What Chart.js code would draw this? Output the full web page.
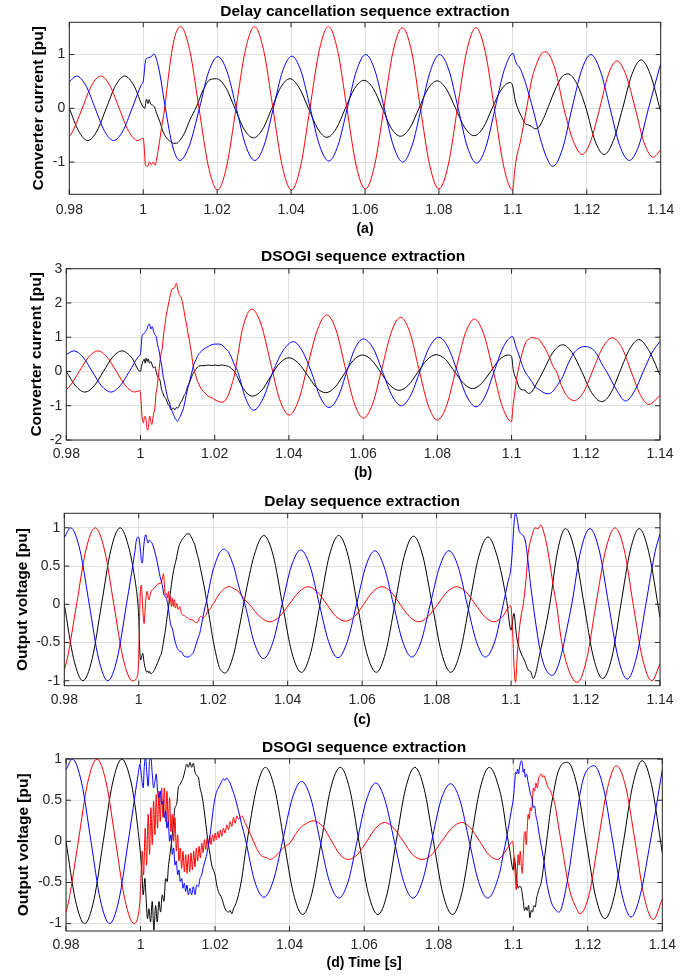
<!DOCTYPE html>
<html>
<head>
<meta charset="utf-8">
<script src="https://cdn.jsdelivr.net/npm/chart.js@4.4.1/dist/chart.umd.min.js"></script>
<style>
  html, body { margin: 0; padding: 0; background: #ffffff; }
  #wrap { position: relative; width: 693px; height: 976px; overflow: hidden; }
  #wrap canvas { position: absolute; left: 0; }
</style>
</head>
<body>
<div id="wrap"></div>
<script>
// ---- axis labels and ticks ----
const xTickLabels = ['0.98', '1', '1.02', '1.04', '1.06', '1.08', '1.1', '1.12', '1.14'];
const yTicksA = [-1, 0, 1];
const yTicksB = [-2, -1, 0, 1, 2, 3];
const yTicksC = [-1, -0.5, 0, 0.5, 1];
const yTicksD = [-1, -0.5, 0, 0.5, 1];
const panelTitles = ['Delay cancellation sequence extraction', 'DSOGI sequence extraction', 'Delay sequence extraction', 'DSOGI sequence extraction'];
const yTitles = ['Converter current [pu]', 'Converter current [pu]', 'Output voltage [pu]', 'Output voltage [pu]'];
const xTitles = ['(a)', '(b)', '(c)', '(d) Time [s]'];

// ---- (a) delay cancellation, converter current: [time s, pu] ----
const aBlue = [
[0.98,0.49],[0.982,0.6],[0.9845,0.42],[0.987,0],[0.9895,-0.42],[0.992,-0.6],[0.9945,-0.42],[0.997,0],[0.9995,0.44],[1.0,0.5],
[1.0007,0.91],[1.0014,0.94],[1.0023,0.97],[1.0029,1.01],[1.0036,0.91],[1.0045,0.64],[1.006,0],[1.008,-0.72],[1.0099,-0.97],[1.0125,-0.69],[1.0152,0],[1.0177,0.68],[1.0202,0.96],[1.0227,0.68],[1.0252,0],[1.0277,-0.69],[1.0302,-0.97],[1.0327,-0.69],[1.0352,0],[1.0377,0.69],[1.0402,0.97],[1.0427,0.69],[1.0452,0],[1.0477,-0.69],[1.0502,-0.98],[1.0527,-0.69],[1.0552,0],[1.0577,0.7],[1.0602,1.0],[1.0627,0.7],[1.0652,0],[1.0677,-0.7],[1.0702,-1.0],[1.0727,-0.7],[1.0752,0],[1.0777,0.7],[1.0802,1.0],[1.0827,0.71],[1.0852,0],[1.0877,-0.72],[1.0902,-1.02],[1.0927,-0.72],[1.0952,0],[1.0977,0.72],[1.1001,1.02],
[1.1006,0.9],[1.1011,0.82],[1.1019,0.75],[1.1028,0.6],[1.1037,0.41],[1.1055,-0.03],[1.1073,-0.53],[1.1091,-0.91],[1.1108,-1.08],[1.1134,-0.76],[1.116,0],[1.1186,0.71],[1.1211,1.0],[1.1237,0.69],[1.1263,0],[1.1289,-0.69],[1.1315,-0.97],[1.1341,-0.69],[1.1367,0],[1.14,0.83]
];
const aRed = [
[0.98,-0.53],[0.981,-0.42],[0.9835,0],[0.986,0.42],[0.9885,0.6],[0.991,0.42],[0.9935,0],[0.996,-0.42],[0.9985,-0.6],[1.0,-0.56],
[1.0003,-0.75],[1.0006,-1.06],[1.0012,-1.08],[1.0017,-1.0],[1.0022,-1.05],[1.0027,-1.0],[1.0032,-1.06],[1.0037,-0.92],[1.0044,-0.62],[1.005,-0.34],[1.0057,-0.05],[1.0064,0.35],[1.0072,0.8],[1.0081,1.2],[1.009,1.43],[1.0101,1.52],[1.0126,1.07],[1.0151,0],[1.0176,-1.07],[1.0201,-1.52],[1.0226,-1.07],[1.0251,0],[1.0276,1.07],[1.0301,1.52],[1.0326,1.07],[1.0351,0],[1.0376,-1.07],[1.0401,-1.52],[1.0426,-1.07],[1.0451,0],[1.0476,1.07],[1.0501,1.52],[1.0526,1.07],[1.0551,0],[1.0576,-1.06],[1.0601,-1.5],[1.0626,-1.06],[1.0651,0],[1.0676,1.06],[1.0701,1.5],[1.0726,1.06],[1.075,0],[1.0775,-1.06],[1.08,-1.5],[1.0825,-1.06],[1.085,0],[1.0875,1.06],[1.09,1.5],[1.0925,1.06],[1.095,0],[1.0975,-1.07],[1.0999,-1.52],
[1.1006,-1.1],[1.1012,-0.85],[1.1019,-0.66],[1.1028,-0.34],[1.1038,0.03],[1.1051,0.53],[1.1065,0.84],[1.1078,1.02],[1.1089,1.05],[1.1114,0.73],[1.1138,0],[1.1163,-0.6],[1.1188,-0.86],[1.1211,-0.6],[1.1235,0],[1.1258,0.62],[1.1281,0.88],[1.1306,0.62],[1.1331,0],[1.1355,-0.64],[1.138,-0.91],[1.14,-0.77]
];
const aBlack = [
[0.98,0],[0.9825,-0.42],[0.985,-0.6],[0.9875,-0.42],[0.99,0],[0.9925,0.42],[0.995,0.6],[0.9975,0.42],[1.0,0.02],
[1.0004,0.0],[1.0009,0.17],[1.0013,0.09],[1.0016,0.16],[1.002,0.08],[1.0025,0.06],[1.003,0.03],[1.0036,-0.09],[1.0045,-0.25],[1.0054,-0.44],[1.0063,-0.55],[1.0072,-0.61],[1.0081,-0.65],[1.009,-0.65],[1.0099,-0.6],[1.0113,-0.44],[1.0126,-0.22],[1.0144,0.03],[1.0162,0.34],[1.018,0.53],[1.0198,0.55],[1.0223,0.39],[1.0248,0],[1.0273,-0.39],[1.0298,-0.55],[1.0323,-0.39],[1.0348,0],[1.0372,0.39],[1.0397,0.55],[1.0422,0.38],[1.0447,0],[1.0472,-0.38],[1.0497,-0.54],[1.0522,-0.38],[1.0547,0],[1.0572,0.37],[1.0597,0.52],[1.0622,0.37],[1.0647,0],[1.0671,-0.37],[1.0696,-0.52],[1.0721,-0.37],[1.0746,0],[1.077,0.36],[1.0795,0.51],[1.082,0.36],[1.0845,0],[1.087,-0.36],[1.0895,-0.51],[1.092,-0.36],[1.0944,0],[1.0968,0.34],[1.0993,0.48],
[1.1,0.4],[1.1006,0.16],[1.1015,-0.03],[1.1024,-0.16],[1.1033,-0.28],[1.1042,-0.31],[1.1051,-0.34],[1.106,-0.38],[1.1069,-0.36],[1.1083,-0.19],[1.1096,0.03],[1.1114,0.34],[1.1132,0.58],[1.1149,0.64],[1.1173,0.46],[1.1198,0],[1.1222,-0.6],[1.1247,-0.86],[1.1272,-0.6],[1.1297,0],[1.1322,0.63],[1.1347,0.9],[1.1372,0.63],[1.14,-0.06]
];

// ---- (b) DSOGI, converter current ----
const bBlue = [
[0.98,0.49],[0.982,0.6],[0.9845,0.42],[0.987,0],[0.9895,-0.42],[0.992,-0.6],[0.9945,-0.42],[0.997,0],[0.9995,0.44],[1.0,0.52],
[1.00045,1.05],[1.0009,1.1],[1.00135,1.17],[1.0018,1.25],[1.00207,1.36],[1.00243,1.38],[1.00279,1.24],[1.00315,1.31],[1.00351,1.17],[1.00387,1.07],[1.00423,1.02],[1.00459,0.78],[1.00495,0.63],[1.00532,0.39],[1.00568,0.19],[1.00604,-0.1],[1.0064,-0.29],[1.00676,-0.49],[1.00712,-0.68],[1.00748,-0.83],[1.00784,-0.92],[1.0082,-1.07],[1.00856,-1.17],[1.00892,-1.26],[1.00928,-1.36],[1.00964,-1.41],[1.01,-1.46],[1.01036,-1.38],[1.01072,-1.31],[1.01108,-1.21],[1.01144,-1.12],[1.0118,-0.97],[1.01216,-0.78],[1.01252,-0.58],[1.01288,-0.44],[1.01333,-0.24],[1.01378,-0.05],[1.01423,0.15],[1.01468,0.29],[1.01514,0.39],[1.01559,0.49],[1.01649,0.6],[1.01739,0.68],[1.01829,0.73],[1.01919,0.78],[1.02009,0.8],[1.02099,0.8],[1.02189,0.78],[1.02279,0.68],[1.02369,0.58],[1.02459,0.39],[1.02532,0.19],[1.0262,0],[1.0283,-0.78],[1.0305,-1.13],[1.033,-0.8],[1.0357,0],[1.0385,0.62],[1.0412,0.87],[1.0436,0.6],[1.046,0],[1.0484,-0.74],[1.0508,-1.05],[1.0533,-0.73],[1.0556,0],[1.0578,0.67],[1.06,0.95],[1.0627,0.68],[1.0652,0],[1.0678,-0.71],[1.0703,-1.0],[1.0728,-0.7],[1.0753,0],[1.0778,0.7],[1.0804,1.0],[1.0829,0.7],[1.0854,0],[1.0879,-0.72],[1.0904,-1.03],[1.0929,-0.72],[1.0953,0],[1.0978,0.72],[1.1003,1.02],
[1.1009,0.83],[1.1013,0.68],[1.1018,0.54],[1.1027,0.24],[1.1036,0],[1.1045,-0.15],[1.1054,-0.29],[1.1063,-0.44],[1.1076,-0.54],[1.1085,-0.61],[1.1096,-0.65],[1.1108,-0.61],[1.1121,-0.44],[1.1138,-0.15],[1.1153,0.24],[1.1171,0.58],[1.1198,0.73],[1.1225,0.58],[1.1247,0.15],[1.1256,0],[1.1283,-0.54],[1.1307,-0.86],[1.1333,-0.54],[1.1355,0],[1.1378,0.54],[1.14,0.88]
];
const bRed = [
[0.98,-0.53],[0.981,-0.42],[0.9835,0],[0.986,0.42],[0.9885,0.6],[0.991,0.42],[0.9935,0],[0.996,-0.42],[0.9985,-0.6],[0.99982,-0.56],
[1.00009,-0.78],[1.00045,-1.36],[1.00081,-1.5],[1.00099,-1.36],[1.00126,-1.31],[1.00153,-1.44],[1.0018,-1.7],[1.00207,-1.7],[1.00225,-1.46],[1.00252,-1.31],[1.00279,-1.46],[1.00306,-1.55],[1.00333,-1.36],[1.0036,-1.21],[1.00387,-1.07],[1.00414,-0.68],[1.00441,-0.49],[1.00477,-0.19],[1.00514,0.19],[1.0055,0.49],[1.00586,0.68],[1.00622,1.07],[1.00658,1.36],[1.00694,1.65],[1.0073,1.84],[1.00766,2.04],[1.00802,2.23],[1.00838,2.38],[1.00874,2.43],[1.0091,2.43],[1.00937,2.5],[1.00964,2.57],[1.00991,2.48],[1.01018,2.33],[1.01054,2.23],[1.0109,2.18],[1.01126,2.04],[1.01162,1.84],[1.01198,1.6],[1.01234,1.41],[1.0127,1.17],[1.01306,0.97],[1.01342,0.73],[1.01378,0.49],[1.01414,0.19],[1.0145,0],[1.01486,-0.1],[1.01523,-0.24],[1.01559,-0.34],[1.01604,-0.44],[1.01649,-0.53],[1.01739,-0.63],[1.01829,-0.73],[1.01919,-0.76],[1.02009,-0.83],[1.02099,-0.87],[1.02189,-0.9],[1.02261,-0.87],[1.02324,-0.78],[1.02387,-0.63],[1.02459,-0.39],[1.02532,-0.1],[1.0262,0.45],[1.0275,1.25],[1.03,1.82],[1.0325,1.37],[1.035,0.28],[1.0375,-0.82],[1.0401,-1.27],[1.0426,-0.84],[1.0451,0.19],[1.0477,1.22],[1.0502,1.65],[1.0527,1.21],[1.0551,0.15],[1.0576,-0.92],[1.0601,-1.36],[1.0626,-0.93],[1.0651,0.11],[1.0676,1.15],[1.0701,1.58],[1.0726,1.14],[1.075,0.08],[1.0775,-0.98],[1.08,-1.42],[1.0825,-0.99],[1.085,0.06],[1.0875,1.1],[1.09,1.53],[1.0925,1.09],[1.095,0.04],[1.0975,-1.02],[1.1,-1.46],
[1.1004,-1.0],[1.1009,-0.6],[1.1013,-0.25],[1.1022,0.25],[1.1031,0.63],[1.104,0.88],[1.1048,0.95],[1.1054,1.0],[1.106,0.98],[1.1067,0.97],[1.1075,0.93],[1.1081,0.83],[1.109,0.68],[1.1099,0.49],[1.1112,0.15],[1.1121,0],[1.1134,-0.4],[1.1148,-0.7],[1.1169,-0.85],[1.1195,-0.58],[1.122,0.06],[1.1246,0.71],[1.1272,0.98],[1.1297,0.7],[1.1322,0.01],[1.1347,-0.68],[1.137,-0.96],[1.14,-0.7]
];
const bBlack = [
[0.98,0],[0.9825,-0.42],[0.985,-0.6],[0.9875,-0.42],[0.99,0],[0.9925,0.42],[0.995,0.6],[0.9975,0.42],[1.0,0],
[1.00027,0.15],[1.00063,0.29],[1.00099,0.36],[1.00126,0.24],[1.00153,0.39],[1.0018,0.29],[1.00207,0.37],[1.00243,0.24],[1.00279,0.29],[1.00315,0.19],[1.00351,0.1],[1.00387,0.14],[1.00423,0],[1.00459,-0.15],[1.00495,-0.19],[1.00532,-0.29],[1.00568,-0.53],[1.00604,-0.63],[1.0064,-0.73],[1.00676,-0.78],[1.00712,-0.87],[1.00748,-0.97],[1.00784,-1.02],[1.0082,-1.12],[1.00856,-1.09],[1.00892,-1.07],[1.00928,-1.12],[1.00964,-1.05],[1.01,-1.07],[1.01036,-1.02],[1.01072,-0.92],[1.01108,-0.87],[1.01144,-0.78],[1.0118,-0.68],[1.01216,-0.63],[1.01252,-0.49],[1.01288,-0.39],[1.01333,-0.29],[1.01378,-0.15],[1.01423,-0.05],[1.01468,0.02],[1.01514,0.1],[1.01559,0.15],[1.01649,0.17],[1.01739,0.17],[1.01829,0.19],[1.01919,0.17],[1.02009,0.19],[1.02099,0.17],[1.02189,0.19],[1.02279,0.17],[1.02369,0.15],[1.02459,0.08],[1.02532,0],[1.0277,-0.5],[1.0301,-0.72],[1.0326,-0.56],[1.035,-0.16],[1.0375,0.24],[1.04,0.4],[1.0425,0.25],[1.045,-0.11],[1.0474,-0.47],[1.0499,-0.62],[1.0524,-0.46],[1.0549,-0.07],[1.0573,0.32],[1.0598,0.48],[1.0623,0.33],[1.0648,-0.035],[1.0672,-0.4],[1.0697,-0.55],[1.0722,-0.4],[1.0747,-0.03],[1.0772,0.34],[1.0797,0.49],[1.0822,0.35],[1.0846,0],[1.0871,-0.35],[1.0895,-0.5],[1.0919,-0.35],[1.0943,-0.01],[1.0967,0.34],[1.0991,0.48],
[1.1,0.44],[1.10045,0.05],[1.10135,-0.25],[1.10225,-0.5],[1.1036,-0.55],[1.1045,-0.64],[1.1054,-0.6],[1.1063,-0.44],[1.1085,0],[1.1111,0.55],[1.1138,0.78],[1.1163,0.55],[1.1189,0],[1.1216,-0.62],[1.1243,-0.88],[1.1268,-0.62],[1.1292,0],[1.1318,0.65],[1.1343,0.93],[1.1368,0.65],[1.14,-0.1]
];

// ---- (c) delay extraction, output voltage ----
const cBlue = [
[0.98,0.87],[0.9817,1.0],[0.9842,0.71],[0.9867,0],[0.9892,-0.71],[0.9917,-1.0],[0.9942,-0.71],[0.9967,0],[0.99893,0.68],
[0.99937,0.84],[0.99982,0.88],[1.00009,0.86],[1.00045,0.71],[1.00072,0.56],[1.00098,0.54],[1.00125,0.71],[1.00152,0.84],[1.00188,0.91],[1.00215,0.86],[1.00251,0.8],[1.00286,0.84],[1.00322,0.82],[1.00358,0.8],[1.00394,0.75],[1.0043,0.69],[1.00466,0.62],[1.00501,0.54],[1.00537,0.45],[1.00573,0.36],[1.00609,0.3],[1.00645,0.21],[1.0068,0.12],[1.00716,0.1],[1.00752,0.06],[1.00788,-0.03],[1.00824,-0.16],[1.00859,-0.27],[1.00895,-0.31],[1.00931,-0.38],[1.00967,-0.47],[1.01003,-0.53],[1.01038,-0.58],[1.01074,-0.6],[1.0111,-0.62],[1.01146,-0.62],[1.01182,-0.65],[1.01218,-0.68],[1.01253,-0.68],[1.01289,-0.69],[1.01325,-0.69],[1.0137,-0.68],[1.01415,-0.66],[1.01459,-0.64],[1.01504,-0.58],[1.01549,-0.51],[1.01594,-0.44],[1.01638,-0.38],[1.01683,-0.27],[1.01728,-0.16],[1.01773,-0.05],[1.01817,0.03],[1.01862,0.14],[1.01907,0.25],[1.01952,0.36],[1.01996,0.45],[1.02041,0.51],[1.02086,0.58],[1.02131,0.63],[1.02175,0.68],[1.0222,0.7],[1.02265,0.72],[1.0231,0.72],[1.02355,0.7],[1.02399,0.68],[1.02444,0.63],[1.02489,0.58],[1.02578,0.45],[1.02668,0.27],[1.02757,0.12],[1.0285,0],[1.031,-0.5],[1.0335,-0.71],[1.036,-0.5],[1.0385,0],[1.041,0.5],[1.0435,0.71],[1.046,0.5],[1.0485,0],[1.051,-0.49],[1.0535,-0.7],[1.056,-0.49],[1.0585,0],[1.061,0.5],[1.0634,0.7],[1.0659,0.49],[1.0684,0],[1.0709,-0.49],[1.0733,-0.69],[1.0758,-0.49],[1.0783,0],[1.0808,0.49],[1.0833,0.7],[1.0858,0.49],[1.0882,0],[1.0907,-0.49],[1.0931,-0.69],[1.0956,-0.49],[1.0979,0],
[1.0992,0.3],[1.0999,0.45],[1.1003,0.67],[1.1008,1.06],[1.1012,1.19],[1.1017,1.1],[1.1021,0.97],[1.1028,0.92],[1.1035,0.88],[1.104,0.78],[1.1046,0.54],[1.1052,0.27],[1.106,-0.03],[1.1069,-0.34],[1.1078,-0.6],[1.1088,-0.79],[1.11,-0.9],[1.1111,-0.93],[1.1122,-0.86],[1.1136,-0.64],[1.1149,-0.34],[1.1163,0],[1.1187,0.7],[1.1212,0.99],[1.1237,0.7],[1.1262,0],[1.1287,-0.69],[1.1312,-0.98],[1.1337,-0.69],[1.1362,0],[1.1387,0.69],[1.14,0.92]
];
const cRed = [
[0.98,-0.86],[0.9808,-0.71],[0.9833,0],[0.9858,0.71],[0.9883,1.0],[0.9908,0.71],[0.9933,0],[0.9958,-0.71],[0.9983,-1.0],
[0.99937,-0.97],[0.99964,-0.93],[0.99991,-0.81],[1.00009,-0.51],[1.00027,-0.07],[1.00045,0.19],[1.00072,0.25],[1.0009,0.1],[1.00116,-0.12],[1.00143,-0.25],[1.0017,-0.07],[1.00197,0.1],[1.00224,0.17],[1.00251,0.1],[1.00278,0.06],[1.00304,0.12],[1.00331,0.17],[1.00358,0.19],[1.00394,0.2],[1.0043,0.22],[1.00466,0.24],[1.00501,0.26],[1.00537,0.27],[1.00573,0.27],[1.00609,0.3],[1.00645,0.36],[1.00662,0.4],[1.0068,0.32],[1.00698,0.19],[1.00716,0.12],[1.00743,0.14],[1.0077,0.08],[1.00797,0.17],[1.00824,0.01],[1.0085,0.1],[1.00877,-0.03],[1.00904,0.08],[1.00931,-0.03],[1.00958,0.06],[1.00985,-0.05],[1.01021,0.01],[1.01056,-0.07],[1.01101,-0.03],[1.01146,-0.12],[1.01191,-0.14],[1.01235,-0.15],[1.0128,-0.17],[1.01325,-0.18],[1.0137,-0.2],[1.01415,-0.2],[1.01459,-0.21],[1.01504,-0.23],[1.01549,-0.24],[1.01594,-0.23],[1.01638,-0.17],[1.01683,-0.16],[1.01728,-0.18],[1.01773,-0.16],[1.01817,-0.13],[1.01862,-0.07],[1.01907,-0.07],[1.01952,-0.03],[1.01996,0.01],[1.02041,0.03],[1.02086,0.08],[1.02131,0.11],[1.02175,0.14],[1.0222,0.17],[1.02265,0.19],[1.0231,0.21],[1.02355,0.22],[1.02399,0.23],[1.02444,0.23],[1.02489,0.22],[1.02578,0.2],[1.02668,0.17],[1.02757,0.12],[1.02847,0.06],[1.0297,0],[1.0325,-0.16],[1.0353,-0.23],[1.0378,-0.16],[1.0404,0],[1.043,0.16],[1.0455,0.23],[1.048,0.16],[1.0505,0],[1.053,-0.16],[1.0555,-0.22],[1.058,-0.16],[1.0604,0],[1.0628,0.16],[1.0653,0.23],[1.0678,0.16],[1.0702,0],[1.0727,-0.16],[1.0752,-0.23],[1.0777,-0.16],[1.0803,0],[1.0828,0.16],[1.0854,0.23],[1.0879,0.16],[1.0904,0],[1.0929,-0.16],[1.0954,-0.23],[1.0977,-0.16],[1.0999,-0.02],
[1.1004,-0.34],[1.1008,-0.81],[1.1012,-1.02],[1.1017,-0.64],[1.1022,-0.34],[1.1028,-0.12],[1.1033,0.01],[1.104,0.32],[1.1046,0.67],[1.1055,0.88],[1.1064,1.0],[1.1073,0.99],[1.108,1.04],[1.1086,0.97],[1.1095,0.8],[1.1104,0.54],[1.1118,0.1],[1.1122,0],[1.1136,-0.5],[1.1158,-0.9],[1.1178,-1.02],[1.1203,-0.72],[1.1228,0],[1.1254,0.71],[1.1279,1.0],[1.1304,0.71],[1.1328,0],[1.1353,-0.71],[1.1378,-1.0],[1.14,-0.78]
];
const cBlack = [
[0.98,0],[0.9825,-0.71],[0.985,-1.0],[0.9875,-0.71],[0.99,0],[0.9925,0.71],[0.995,1.0],[0.9975,0.71],[0.99893,0.34],
[0.99937,0.19],[0.99982,-0.03],[1.00009,-0.29],[1.00027,-0.6],[1.00054,-0.73],[1.00081,-0.68],[1.00107,-0.64],[1.00134,-0.73],[1.00161,-0.81],[1.00188,-0.86],[1.00215,-0.89],[1.00242,-0.87],[1.00269,-0.9],[1.00295,-0.88],[1.00322,-0.91],[1.00358,-0.9],[1.00394,-0.88],[1.0043,-0.85],[1.00466,-0.81],[1.00501,-0.77],[1.00537,-0.73],[1.00573,-0.68],[1.00609,-0.64],[1.00645,-0.55],[1.0068,-0.44],[1.00716,-0.34],[1.00752,-0.2],[1.00788,-0.07],[1.00824,0.06],[1.00859,0.19],[1.00895,0.32],[1.00931,0.43],[1.00967,0.51],[1.01003,0.58],[1.01038,0.67],[1.01074,0.75],[1.0111,0.8],[1.01146,0.83],[1.01182,0.86],[1.01218,0.88],[1.01253,0.9],[1.01289,0.92],[1.01325,0.92],[1.01361,0.92],[1.01397,0.89],[1.01432,0.86],[1.01468,0.82],[1.01504,0.78],[1.0154,0.71],[1.01576,0.64],[1.01611,0.58],[1.01647,0.49],[1.01683,0.41],[1.01728,0.3],[1.01773,0.19],[1.01817,0.06],[1.01862,-0.07],[1.01907,-0.2],[1.01952,-0.34],[1.01996,-0.47],[1.02041,-0.58],[1.02086,-0.68],[1.02131,-0.77],[1.02175,-0.84],[1.0222,-0.87],[1.02265,-0.89],[1.0231,-0.9],[1.02355,-0.89],[1.02399,-0.86],[1.02444,-0.81],[1.02489,-0.75],[1.02578,-0.6],[1.02668,-0.38],[1.02757,-0.16],[1.02847,0.08],[1.031,0.64],[1.0336,0.9],[1.0361,0.64],[1.0386,0],[1.0411,-0.63],[1.0437,-0.89],[1.0462,-0.63],[1.0487,0],[1.0512,0.64],[1.0537,0.9],[1.0562,0.64],[1.0587,0],[1.0612,-0.63],[1.0638,-0.89],[1.0663,-0.63],[1.0688,0],[1.0713,0.63],[1.0738,0.89],[1.0763,0.63],[1.0788,0],[1.0813,-0.63],[1.0838,-0.89],[1.0863,-0.63],[1.0888,0],[1.0913,0.62],[1.0938,0.88],[1.0963,0.62],[1.0988,0.05],
[1.1,-0.34],[1.10076,-0.12],[1.10148,-0.42],[1.10237,-0.6],[1.10372,-0.75],[1.10461,-0.86],[1.10524,-0.88],[1.10596,-0.97],[1.10775,-0.64],[1.1104,0],[1.1125,0.7],[1.1146,0.99],[1.1171,0.7],[1.1196,0],[1.1221,-0.69],[1.1246,-0.97],[1.1271,-0.69],[1.1295,0],[1.132,0.7],[1.1344,0.99],[1.1369,0.7],[1.14,-0.17]
];

// ---- (d) DSOGI, output voltage ----
const dBlue = [
[0.98,0.87],[0.9817,1.0],[0.9842,0.71],[0.9867,0],[0.9892,-0.71],[0.9917,-1.0],[0.9942,-0.71],[0.9967,0],[0.99848,0.55],
[0.99892,0.69],[0.99937,0.82],[0.99982,0.94],[1.00027,0.78],[1.00072,0.65],[1.00099,0.9],[1.00135,1.02],[1.0017,0.82],[1.00206,0.67],[1.00242,0.98],[1.00278,1.02],[1.00314,0.82],[1.0035,0.65],[1.00386,0.73],[1.00422,0.82],[1.00457,0.61],[1.00493,0.53],[1.00529,0.61],[1.00565,0.45],[1.00601,0.49],[1.00637,0.29],[1.00673,0.37],[1.00709,0.16],[1.00744,0.24],[1.0078,0],[1.00816,0.08],[1.00852,-0.16],[1.00888,-0.08],[1.00924,-0.29],[1.0096,-0.24],[1.00996,-0.41],[1.01031,-0.35],[1.01067,-0.49],[1.01103,-0.45],[1.01139,-0.57],[1.01175,-0.51],[1.01211,-0.61],[1.01247,-0.53],[1.01283,-0.65],[1.01327,-0.57],[1.01372,-0.65],[1.01417,-0.55],[1.01462,-0.65],[1.01507,-0.53],[1.01552,-0.55],[1.01596,-0.45],[1.01641,-0.41],[1.01686,-0.31],[1.01731,-0.24],[1.01776,-0.16],[1.01821,-0.04],[1.01865,0.08],[1.0191,0.24],[1.01955,0.41],[1.02,0.53],[1.02045,0.61],[1.0209,0.65],[1.02135,0.69],[1.02179,0.73],[1.02224,0.76],[1.02269,0.74],[1.02314,0.77],[1.02359,0.74],[1.02404,0.71],[1.02448,0.65],[1.02538,0.53],[1.02628,0.37],[1.02717,0.2],[1.02807,0.04],[1.0306,-0.48],[1.0331,-0.68],[1.0356,-0.48],[1.0381,0],[1.0407,0.52],[1.0432,0.73],[1.0457,0.52],[1.0482,0],[1.0507,-0.49],[1.0532,-0.69],[1.0557,-0.49],[1.0581,0],[1.0606,0.5],[1.0631,0.71],[1.0656,0.5],[1.0681,0],[1.0706,-0.49],[1.0731,-0.69],[1.0756,-0.49],[1.0781,0],[1.0806,0.5],[1.0832,0.7],[1.0857,0.5],[1.0882,0],[1.0907,-0.49],[1.0931,-0.69],
[1.09642,-0.37],[1.09731,-0.16],[1.09821,0.04],[1.0991,0.27],[1.09955,0.39],[1.1,0.51],[1.10036,0.69],[1.10063,0.84],[1.1009,0.82],[1.10116,0.88],[1.10143,0.82],[1.10179,0.92],[1.10215,0.98],[1.10242,0.96],[1.10269,0.84],[1.10295,0.88],[1.10322,0.78],[1.10358,0.82],[1.10394,0.73],[1.1043,0.65],[1.10466,0.57],[1.10501,0.53],[1.10537,0.41],[1.10573,0.43],[1.10609,0.31],[1.10645,0.24],[1.10698,0.08],[1.10761,-0.08],[1.10824,-0.24],[1.10895,-0.49],[1.10967,-0.65],[1.11038,-0.76],[1.11119,-0.82],[1.11209,-0.86],[1.11271,-0.84],[1.11343,-0.73],[1.11432,-0.53],[1.11522,-0.29],[1.11611,0],[1.11701,0.29],[1.1179,0.57],[1.1188,0.76],[1.1197,0.86],[1.1217,0.92],[1.1242,0.65],[1.1267,0],[1.1292,-0.65],[1.1316,-0.92],[1.1341,-0.65],[1.1368,0],[1.14,0.87]
];
const dRed = [
[0.98,-0.86],[0.9808,-0.71],[0.9833,0],[0.9858,0.71],[0.9883,1.0],[0.9908,0.71],[0.9933,0],[0.9958,-0.71],[0.9983,-1.0],
[0.99937,-0.9],[0.99982,-0.73],[1.0,-0.57],[1.00018,-0.4],[1.00045,-0.12],[1.00081,-0.41],[1.00126,0.16],[1.00161,-0.29],[1.00206,0.33],[1.00242,-0.16],[1.00278,0.41],[1.00314,-0.04],[1.0035,0.49],[1.00386,0.08],[1.00422,0.57],[1.00457,0.16],[1.00493,0.61],[1.00529,0.24],[1.00565,0.65],[1.00601,0.29],[1.00637,0.65],[1.00673,0.24],[1.00709,0.61],[1.00744,0.2],[1.0078,0.53],[1.00816,0.12],[1.00852,0.33],[1.00888,0],[1.00924,0.29],[1.0096,-0.12],[1.00996,0.08],[1.01031,-0.24],[1.01067,-0.08],[1.01103,-0.33],[1.01139,-0.12],[1.01175,-0.37],[1.01211,-0.16],[1.01247,-0.39],[1.01283,-0.16],[1.01318,-0.37],[1.01354,-0.14],[1.0139,-0.35],[1.01426,-0.12],[1.01462,-0.31],[1.01497,-0.08],[1.01533,-0.24],[1.01569,-0.06],[1.01605,-0.2],[1.01641,-0.02],[1.01677,-0.14],[1.01713,0.02],[1.01749,-0.1],[1.01785,0.04],[1.01821,-0.06],[1.01857,0.06],[1.01892,-0.04],[1.01928,0.08],[1.01964,0],[1.02,0.1],[1.02036,0.02],[1.02072,0.12],[1.02108,0.04],[1.02143,0.14],[1.02179,0.06],[1.02224,0.16],[1.02269,0.1],[1.02314,0.2],[1.02359,0.14],[1.02404,0.24],[1.02448,0.18],[1.02493,0.29],[1.02538,0.22],[1.02583,0.31],[1.02628,0.27],[1.02717,0.31],[1.02807,0.22],[1.029,0.14],[1.0303,0],[1.0321,-0.16],[1.0339,-0.2],[1.0348,-0.22],[1.0357,-0.2],[1.0375,-0.12],[1.0388,-0.06],[1.0401,-0.02],[1.0415,0.08],[1.0428,0.16],[1.0446,0.22],[1.0464,0.25],[1.0489,0.18],[1.0513,0],[1.0535,-0.16],[1.0558,-0.22],[1.0582,-0.16],[1.0607,0],[1.0631,0.16],[1.0655,0.23],[1.068,0.16],[1.0705,0],[1.073,-0.16],[1.0755,-0.22],[1.0782,-0.16],[1.0808,0],[1.0835,0.16],[1.0862,0.23],[1.0886,0.16],[1.091,0],[1.0934,-0.16],[1.0958,-0.22],[1.0973,-0.16],[1.09821,-0.1],[1.0991,-0.04],[1.09982,0],
[1.10018,-0.16],[1.10054,-0.41],[1.10081,-0.59],[1.10107,-0.37],[1.10134,-0.16],[1.10161,-0.29],[1.10188,-0.12],[1.10215,-0.29],[1.10242,-0.39],[1.10269,-0.16],[1.10295,0.08],[1.10322,0.12],[1.10349,-0.04],[1.10376,0.16],[1.10403,0.33],[1.1043,0.27],[1.10457,0.41],[1.10483,0.37],[1.1051,0.45],[1.10537,0.65],[1.10573,0.61],[1.10609,0.71],[1.10645,0.65],[1.1068,0.76],[1.10716,0.8],[1.10752,0.82],[1.10788,0.78],[1.10824,0.8],[1.1086,0.76],[1.10895,0.71],[1.1094,0.65],[1.10985,0.63],[1.1103,0.57],[1.11074,0.53],[1.11119,0.45],[1.11164,0.33],[1.11253,0.08],[1.11343,-0.16],[1.11432,-0.41],[1.11522,-0.61],[1.11611,-0.73],[1.11701,-0.82],[1.1179,-0.88],[1.1204,-0.64],[1.1228,0],[1.1253,0.65],[1.1277,0.92],[1.1302,0.66],[1.1327,0],[1.1351,-0.67],[1.1376,-0.95],[1.14,-0.7]
];
const dBlack = [
[0.98,0],[0.9825,-0.71],[0.985,-1.0],[0.9875,-0.71],[0.99,0],[0.9925,0.71],[0.995,1.0],[0.9975,0.71],[0.99848,0.45],
[0.99937,0.12],[1.0,-0.16],[1.00045,-0.45],[1.00072,-0.65],[1.00117,-0.45],[1.00144,-0.65],[1.00188,-0.94],[1.00224,-0.82],[1.00269,-0.98],[1.00314,-0.73],[1.00359,-1.08],[1.00404,-0.78],[1.00448,-0.98],[1.00493,-0.73],[1.00538,-0.86],[1.00583,-0.65],[1.00628,-0.73],[1.00673,-0.45],[1.00717,-0.49],[1.00744,-0.33],[1.00789,-0.16],[1.00834,0],[1.00879,0.2],[1.00924,0.41],[1.00969,0.45],[1.01013,0.65],[1.01058,0.69],[1.01103,0.73],[1.01148,0.78],[1.01193,0.86],[1.01238,0.94],[1.01283,0.9],[1.01327,0.96],[1.01372,0.9],[1.01417,0.95],[1.01462,0.84],[1.01507,0.8],[1.01552,0.78],[1.01596,0.65],[1.01641,0.57],[1.01686,0.45],[1.01731,0.29],[1.01776,0.12],[1.01821,-0.04],[1.01865,-0.16],[1.0191,-0.29],[1.02,-0.41],[1.02045,-0.53],[1.0209,-0.61],[1.02179,-0.69],[1.02269,-0.82],[1.02359,-0.86],[1.02404,-0.84],[1.02448,-0.88],[1.02493,-0.82],[1.02538,-0.78],[1.02628,-0.65],[1.02717,-0.45],[1.02807,-0.16],[1.0293,0.2],[1.0312,0.66],[1.0335,0.9],[1.036,0.64],[1.0385,0],[1.041,-0.63],[1.0435,-0.89],[1.046,-0.63],[1.0485,0],[1.051,0.64],[1.0536,0.9],[1.0561,0.64],[1.0586,0],[1.0611,-0.63],[1.0637,-0.89],[1.0662,-0.63],[1.0686,0],[1.0711,0.64],[1.0736,0.9],[1.0761,0.64],[1.0786,0],[1.0811,-0.63],[1.0837,-0.89],[1.0862,-0.63],[1.0886,0],[1.0911,0.64],[1.0936,0.9],
[1.09642,0.61],[1.09731,0.41],[1.09821,0.12],[1.0991,-0.12],[1.09964,-0.29],[1.1,-0.35],[1.10027,-0.2],[1.10054,-0.27],[1.1009,-0.45],[1.10134,-0.57],[1.10161,-0.55],[1.10197,-0.55],[1.10233,-0.61],[1.10269,-0.73],[1.10304,-0.84],[1.1034,-0.8],[1.10376,-0.84],[1.10412,-0.78],[1.10448,-0.93],[1.10483,-0.84],[1.10519,-0.86],[1.10555,-0.78],[1.10591,-0.8],[1.10627,-0.69],[1.10662,-0.63],[1.10698,-0.57],[1.10734,-0.53],[1.1077,-0.45],[1.10806,-0.33],[1.10851,-0.16],[1.10895,0],[1.1094,0.16],[1.10985,0.33],[1.11074,0.57],[1.11164,0.78],[1.11253,0.9],[1.11343,0.95],[1.1146,0.96],[1.1171,0.68],[1.1196,0],[1.1221,-0.67],[1.1246,-0.94],[1.1271,-0.67],[1.1296,0],[1.1321,0.69],[1.1346,0.98],[1.1371,0.69],[1.14,-0.14]
];

// ---- page geometry for the four stacked axes (px) ----
const panels = [
  { top: 0,   h: 245, left: 69.3, right: 660.7, ptop: 22.3, pbottom: 194.3, titleY: 12, subY: 229, yTitleX: 39, tickPad: 7.3, ymin: -1.6,   ymax: 1.6,   yticks: yTicksA, series: [aBlue, aRed, aBlack] },
  { top: 240, h: 245, left: 66.3, right: 660,   ptop: 28.7, pbottom: 200,   titleY: 17, subY: 233, yTitleX: 37, tickPad: 5.6, ymin: -2,     ymax: 3,     yticks: yTicksB, series: [bBlue, bRed, bBlack] },
  { top: 480, h: 250, left: 64.3, right: 660,   ptop: 33.3, pbottom: 205.7, titleY: 22, subY: 240, yTitleX: 23, tickPad: 6,   ymin: -1.065, ymax: 1.19,  yticks: yTicksC, series: [cBlue, cRed, cBlack] },
  { top: 715, h: 261, left: 66,   right: 662.3, ptop: 43.7, pbottom: 216,   titleY: 33, subY: 248, yTitleX: 24, tickPad: 5.6, ymin: -1.09,  ymax: 1.005, yticks: yTicksD, series: [dBlue, dRed, dBlack] }
];
const colors = ['#0000ff', '#ff0000', '#000000'];

Chart.defaults.font.family = '"Liberation Sans", Arial, Helvetica, sans-serif';
Chart.defaults.color = '#262626';

// axes box with inward tick marks on all four sides
const boxPlugin = {
  id: 'axesBox',
  afterDatasetsDraw(chart) {
    const { ctx, chartArea: a, scales: { x, y } } = chart;
    const len = 5;
    ctx.save();
    ctx.strokeStyle = '#262626';
    ctx.lineWidth = 1;
    ctx.beginPath();
    x.ticks.forEach(t => {
      const px = x.getPixelForValue(t.value);
      ctx.moveTo(px, a.bottom); ctx.lineTo(px, a.bottom - len);
      ctx.moveTo(px, a.top); ctx.lineTo(px, a.top + len);
    });
    y.ticks.forEach(t => {
      const py = y.getPixelForValue(t.value);
      ctx.moveTo(a.left, py); ctx.lineTo(a.left + len, py);
      ctx.moveTo(a.right, py); ctx.lineTo(a.right - len, py);
    });
    ctx.stroke();
    ctx.strokeRect(a.left, a.top, a.right - a.left, a.bottom - a.top);
    ctx.restore();
  }
};

const wrap = document.getElementById('wrap');
panels.forEach((p, k) => {
  const cv = document.createElement('canvas');
  cv.width = 693; cv.height = p.h;
  cv.style.top = p.top + 'px';
  cv.style.width = '693px'; cv.style.height = p.h + 'px';
  wrap.appendChild(cv);

  const titleHalf = 15.5 * 1.2 / 2;
  new Chart(cv, {
    type: 'line',
    data: {
      datasets: p.series.map((s, i) => ({
        data: s.map(([t, v]) => ({ x: t, y: v })),
        borderColor: colors[i],
        borderWidth: 1,
        pointRadius: 0,
        fill: false,
        tension: 0.4,
        cubicInterpolationMode: 'monotone'
      }))
    },
    options: {
      responsive: false,
      animation: false,
      events: [],
      layout: { padding: { left: 0, top: 0, bottom: 0, right: 693 - p.right } },
      plugins: {
        legend: { display: false },
        tooltip: { enabled: false },
        title: {
          display: true,
          text: panelTitles[k],
          fullSize: false,
          color: '#000000',
          font: { size: 15.5, weight: 'bold' },
          padding: { top: p.titleY - titleHalf, bottom: p.ptop - p.titleY - titleHalf }
        }
      },
      scales: {
        x: {
          type: 'linear',
          min: 0.98, max: 1.14,
          afterBuildTicks: s => { s.ticks = xTickLabels.map(v => ({ value: Number(v) })); },
          afterFit: s => { s.height = p.h - p.pbottom; },
          grid: { color: '#dfdfdf', drawTicks: false },
          border: { display: false },
          ticks: {
            autoSkip: false, maxRotation: 0, padding: p.tickPad,
            color: '#262626', font: { size: 14 },
            callback: (v, i) => xTickLabels[i]
          },
          title: {
            display: true, text: xTitles[k], color: '#000000',
            font: { size: 14, weight: 'bold' },
            padding: { top: 0, bottom: p.h - p.subY - 8.4 }
          }
        },
        y: {
          type: 'linear',
          min: p.ymin, max: p.ymax,
          afterBuildTicks: s => { s.ticks = p.yticks.map(v => ({ value: v })); },
          afterFit: s => { s.width = p.left; },
          grid: { color: '#dfdfdf', drawTicks: false },
          border: { display: false },
          ticks: { padding: 4, color: '#262626', font: { size: 14 }, callback: v => String(v) },
          title: {
            display: true, text: yTitles[k], color: '#000000',
            font: { size: 15.5, weight: 'bold' },
            padding: { top: p.yTitleX - titleHalf, bottom: 0 }
          }
        }
      }
    },
    plugins: [boxPlugin]
  });
});
</script>
</body>
</html>
